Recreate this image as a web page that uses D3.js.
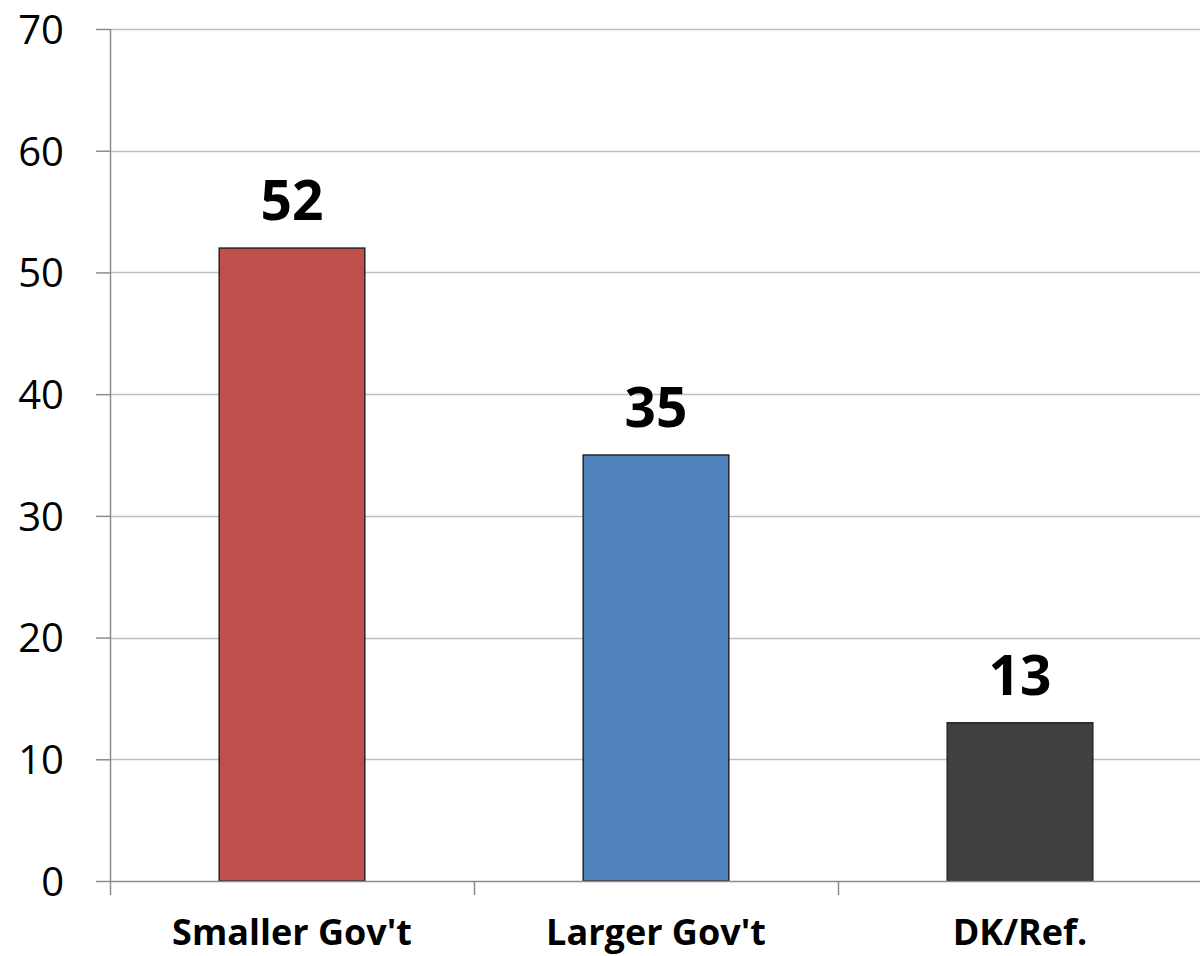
<!DOCTYPE html>
<html>
<head>
<meta charset="utf-8">
<script src="https://cdn.jsdelivr.net/npm/d3@7"></script>
<style>
  html, body { margin: 0; padding: 0; background: #fff; }
  svg { display: block; }
</style>
</head>
<body>
<svg id="chart" width="1200" height="956"></svg>
<script>
const categories = ["Smaller Gov't", "Larger Gov't", "DK/Ref."];
const values = [52, 35, 13];
const colors = ["#C0504D", "#4F81BD", "#404040"];
const yTicks = [0, 10, 20, 30, 40, 50, 60, 70];

(function () {
const svg = d3.select("#chart");
const mLeft = 110, mRight = 1202, mTop = 29, mBottom = 881;
const font = "'Open Sans', sans-serif";

const x = d3.scaleBand().domain(categories).range([mLeft, mRight]).paddingInner(0).paddingOuter(0);
const y = d3.scaleLinear().domain([0, 70]).range([mBottom, mTop]);

// gridlines
svg.append("g").selectAll("line").data(yTicks.filter(d => d > 0)).join("line")
  .attr("x1", mLeft).attr("x2", 1200)
  .attr("y1", d => Math.round(y(d)) + 0.5).attr("y2", d => Math.round(y(d)) + 0.5)
  .attr("stroke", "#BEBEBE").attr("stroke-width", 1.5);

// y axis
const yAxis = svg.append("g").attr("transform", `translate(${mLeft},0)`)
  .call(d3.axisLeft(y).tickValues(yTicks).tickSize(14).tickPadding(32).tickFormat(d3.format("d")));
yAxis.select(".domain").attr("stroke", "#8C8C8C").attr("stroke-width", 1.5).attr("d", `M0.5,${mTop}V${mBottom}`);
yAxis.selectAll(".tick line").attr("stroke", "#8C8C8C").attr("stroke-width", 1.5);
yAxis.selectAll(".tick text").attr("font-family", font).attr("font-size", 40).attr("fill", "#000").attr("dy", "0.36em");

// bars
const bw = x.bandwidth() * 0.4;
svg.append("g").selectAll("rect").data(values).join("rect")
  .attr("x", (d, i) => x(categories[i]) + (x.bandwidth() - bw) / 2)
  .attr("y", d => y(d))
  .attr("width", bw)
  .attr("height", d => y(0) - y(d))
  .attr("fill", (d, i) => colors[i])
  .attr("stroke", "#262626").attr("stroke-width", 1.5);

// x axis
const xAxisG = svg.append("g").attr("transform", `translate(0,${mBottom})`);
xAxisG.append("line").attr("x1", mLeft).attr("x2", 1200).attr("y1", 0.5).attr("y2", 0.5)
  .attr("stroke", "#8C8C8C").attr("stroke-width", 1.5);
const bounds = [mLeft, ...categories.slice(1).map(c => x(c))];
xAxisG.selectAll(".xt").data(bounds).join("line").attr("class", "xt")
  .attr("x1", d => Math.round(d) + 0.5).attr("x2", d => Math.round(d) + 0.5)
  .attr("y1", 0).attr("y2", 14)
  .attr("stroke", "#8C8C8C").attr("stroke-width", 1.5);
xAxisG.selectAll("text").data(categories).join("text")
  .attr("x", d => x(d) + x.bandwidth() / 2)
  .attr("y", 64)
  .attr("text-anchor", "middle")
  .attr("font-family", font).attr("font-weight", "bold").attr("font-size", 36)
  .attr("fill", "#000")
  .text(d => d);

// value labels
svg.append("g").selectAll("text").data(values).join("text")
  .attr("x", (d, i) => x(categories[i]) + x.bandwidth() / 2)
  .attr("y", d => y(d) - 28)
  .attr("text-anchor", "middle")
  .attr("font-family", font).attr("font-weight", "bold").attr("font-size", 55)
  .attr("fill", "#000")
  .text(d => d);
})();
</script>
</body>
</html>
